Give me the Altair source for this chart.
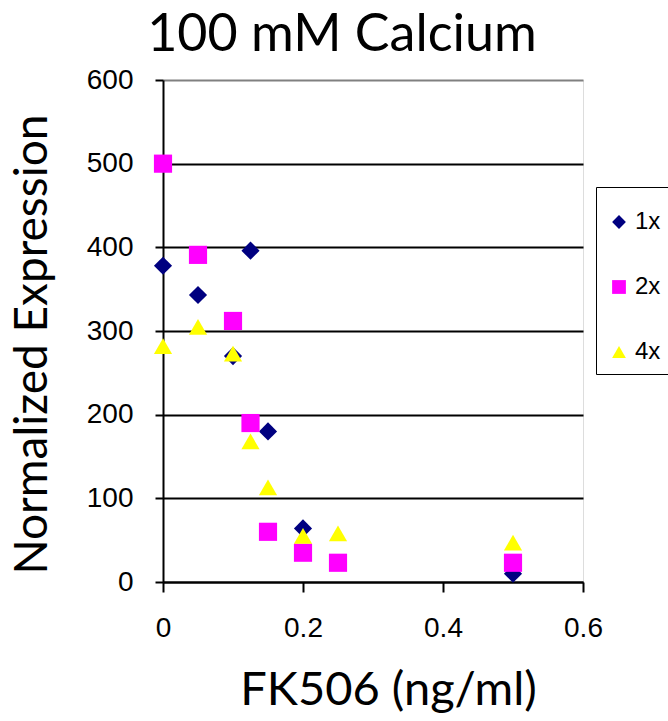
import altair as alt
import pandas as pd

series_names = ["1x", "2x", "4x"]

x_1x = [0, 0.05, 0.1, 0.125, 0.15, 0.2, 0.5]
y_1x = [378, 343, 270, 396, 180, 64, 10]

x_2x = [0, 0.05, 0.1, 0.125, 0.15, 0.2, 0.25, 0.5]
y_2x = [500, 391, 312, 190, 60, 35, 23, 23]

x_4x = [0, 0.05, 0.1, 0.125, 0.15, 0.2, 0.25, 0.5]
y_4x = [282, 305, 273, 168, 113, 55, 58, 47]

x_ticks = [0, 0.2, 0.4, 0.6]
y_ticks = [0, 100, 200, 300, 400, 500, 600]

colors = ["#000080", "#FF00FF", "#FFFF00"]
shapes = ["diamond", "square", "triangle-up"]

rows = []
for name, xs, ys in zip(series_names, [x_1x, x_2x, x_4x], [y_1x, y_2x, y_4x]):
    for xv, yv in zip(xs, ys):
        rows.append({"FK506": xv, "Expression": yv, "Series": name})
df = pd.DataFrame(rows)

legend = alt.Legend(
    title="\u2003" * 8,
    titleFontSize=11,
    titlePadding=2,
    orient="none",
    legendX=433,
    legendY=107,
    strokeColor="black",
    fillColor="white",
    padding=10,
    rowPadding=41,
    labelFontSize=24,
    labelFont="Liberation Sans",
    labelColor="black",
    labelOffset=4,
    symbolOffset=1,
    symbolSize=190,
    symbolStrokeWidth=0,
)

chart = alt.Chart(df).mark_point(filled=True, opacity=1, size=330).encode(
    x=alt.X(
        "FK506:Q",
        scale=alt.Scale(domain=[0, 0.6], nice=False, zero=False),
        axis=alt.Axis(
            values=x_ticks,
            format="~g",
            title="FK506 (ng/ml)",
            titleFont="Lato",
            titleFontSize=47,
            titleFontWeight="normal",
            titleColor="black",
            titleX=225,
            titleY=122,
            titleBaseline="alphabetic",
            labelFont="Liberation Sans",
            labelFontSize=28,
            labelColor="black",
            labelPadding=22,
            labelFlush=False,
            labelOverlap=False,
            tickSize=10,
            tickWidth=2,
            tickColor="black",
            domainColor="black",
            domainWidth=2,
            grid=False,
        ),
    ),
    y=alt.Y(
        "Expression:Q",
        scale=alt.Scale(domain=[0, 600], nice=False),
        axis=alt.Axis(
            values=y_ticks,
            title="Normalized Expression",
            titleFont="Lato",
            titleFontSize=46,
            titleFontWeight="normal",
            titleColor="black",
            titleX=-117,
            titleY=264,
            titleBaseline="alphabetic",
            labelFont="Liberation Sans",
            labelFontSize=28,
            labelColor="black",
            labelPadding=22,
            labelFlush=False,
            labelOverlap=False,
            tickSize=8,
            tickWidth=2,
            tickColor="black",
            domainColor="black",
            domainWidth=2,
            grid=True,
            gridColor=alt.condition("datum.value == 600", alt.value("#808080"), alt.value("black")),
            gridWidth=2,
        ),
    ),
    color=alt.Color(
        "Series:N",
        scale=alt.Scale(domain=series_names, range=colors),
        legend=legend,
    ),
    shape=alt.Shape(
        "Series:N",
        scale=alt.Scale(domain=series_names, range=shapes),
        legend=legend,
    ),
).properties(
    width=420,
    height=502,
    title=alt.TitleParams(
        "100 mM Calcium",
        font="Lato",
        fontSize=52,
        fontWeight="normal",
        color="black",
        anchor="middle",
        dx=-31,
    ),
    autosize=alt.AutoSizeParams(type="none"),
    padding={"left": 163, "top": 80, "right": 85, "bottom": 139},
).configure_view(
    fill="#C0C0C0",
    stroke="#808080",
    strokeWidth=2,
).configure(background="white")

chart.save("out.html", embed_options={"renderer": "svg", "actions": False})
